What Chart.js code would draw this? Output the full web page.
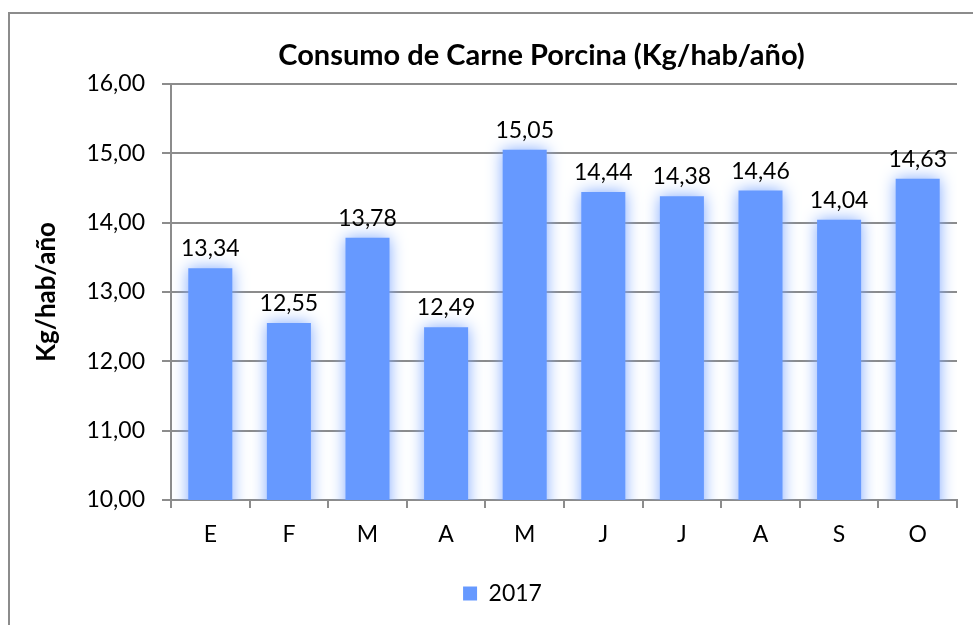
<!DOCTYPE html>
<html>
<head>
<meta charset="utf-8">
<script src="https://cdn.jsdelivr.net/npm/chart.js@4.4.1/dist/chart.umd.min.js"></script>
<style>
  html, body { margin: 0; padding: 0; background: #fff; }
  #wrap { width: 973px; height: 625px; position: relative; }
</style>
</head>
<body>
<div id="wrap"><canvas id="c" width="973" height="625"></canvas></div>
<script>
const categories = ["E", "F", "M", "A", "M", "J", "J", "A", "S", "O"];
const values2017 = [13.34, 12.55, 13.78, 12.49, 15.05, 14.44, 14.38, 14.46, 14.04, 14.63];
const seriesLabel = "2017";
const chartTitle = "Consumo de Carne Porcina (Kg/hab/año)";
const yAxisTitle = "Kg/hab/año";
const yMin = 10, yMax = 16, yStep = 1;

const FONT = "Lato, 'Open Sans', sans-serif";
const GRID = "#8c8c8c";
const BAR = "#6699ff";

const fmt = v => Number(v).toFixed(2).replace('.', ',');

const frame = {
  id: 'frame',
  beforeDraw(chart) {
    const ctx = chart.ctx;
    ctx.save();
    ctx.fillStyle = '#fff';
    ctx.fillRect(0, 0, chart.width, chart.height);
    ctx.strokeStyle = '#8c8c8c';
    ctx.lineWidth = 2;
    ctx.strokeRect(9, 13, 1200, 1200);
    ctx.restore();
  }
};

const shifter = {
  id: 'shifter',
  afterLayout(chart) {
    const t = chart.titleBlock;
    if (t) { t.left += 63; t.right += 63; }
    const l = chart.legend;
    if (l) { l.left += 24; l.right += 24; }
  }
};

const glow = {
  id: 'glow',
  beforeDatasetsDraw(chart) {
    const ctx = chart.ctx;
    ctx.save();
    ctx.shadowColor = '#7fa9ff';
    ctx.shadowBlur = 16;
    ctx.shadowOffsetX = 0;
    ctx.shadowOffsetY = 0;
  },
  afterDatasetsDraw(chart) {
    const ctx = chart.ctx;
    ctx.restore();
    ctx.save();
    ctx.font = "23px " + FONT;
    ctx.fillStyle = '#000';
    ctx.textAlign = 'center';
    ctx.textBaseline = 'alphabetic';
    chart.data.datasets.forEach((ds, i) => {
      const meta = chart.getDatasetMeta(i);
      meta.data.forEach((bar, j) => {
        ctx.fillText(fmt(ds.data[j]), bar.x, bar.y - 12);
      });
    });
    ctx.restore();
  }
};

new Chart(document.getElementById('c'), {
  type: 'bar',
  data: {
    labels: categories,
    datasets: [{
      label: seriesLabel,
      data: values2017,
      backgroundColor: BAR,
      borderWidth: 0,
      categoryPercentage: 1.0,
      barPercentage: 0.56
    }]
  },
  options: {
    responsive: false,
    animation: false,
    devicePixelRatio: 1,
    layout: { padding: { left: 0, right: 16, top: 0, bottom: 10 } },
    plugins: {
      title: {
        display: true,
        text: chartTitle,
        color: '#000',
        font: { family: FONT, size: 29, weight: 'bold', lineHeight: 1.2 },
        padding: { top: 38, bottom: 11 }
      },
      legend: {
        display: true,
        position: 'bottom',
        labels: {
          color: '#000',
          font: { family: FONT, size: 23 },
          boxWidth: 14,
          boxHeight: 14,
          padding: 16
        }
      },
      tooltip: { enabled: false }
    },
    scales: {
      x: {
        grid: {
          display: true,
          drawOnChartArea: false,
          drawTicks: true,
          tickLength: 8,
          color: GRID,
          lineWidth: 2,
          offset: true
        },
        border: { display: true, color: GRID, width: 2 },
        ticks: {
          color: '#000',
          font: { family: FONT, size: 23 },
          padding: 13,
          maxRotation: 0
        },
        afterFit(s) { s.height = 66; }
      },
      y: {
        min: yMin,
        max: yMax,
        grid: {
          color: GRID,
          lineWidth: 2,
          drawTicks: true,
          tickLength: 9
        },
        border: { display: true, color: GRID, width: 2 },
        ticks: {
          stepSize: yStep,
          color: '#000',
          font: { family: FONT, size: 23 },
          padding: 17,
          callback: v => fmt(v)
        },
        title: {
          display: true,
          text: yAxisTitle,
          color: '#000',
          font: { family: FONT, size: 26, weight: 'bold' },
          padding: { top: 31, bottom: 0 }
        },
        afterFit(s) { s.width = 171; }
      }
    }
  },
  plugins: [frame, shifter, glow]
});
</script>
</body>
</html>
